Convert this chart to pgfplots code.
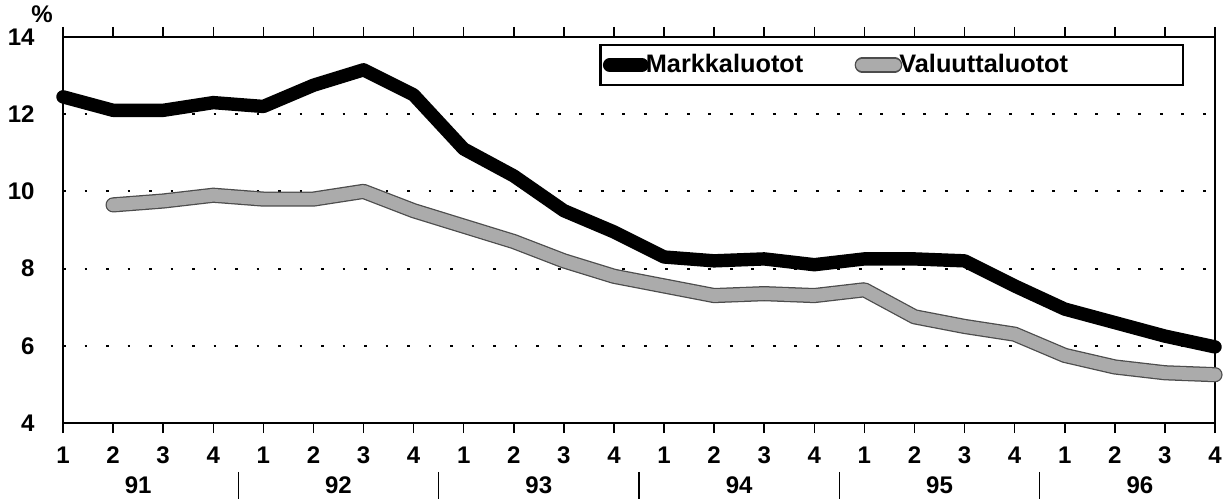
\documentclass[border=0pt]{standalone}
\usepackage{fontspec}
\setmainfont{Liberation Sans}
\usepackage{pgfplots}
\pgfplotsset{compat=1.18}
\begin{document}
\begin{tikzpicture}
\begin{axis}[
  name=ax,
  scale only axis,
  width=16cm, height=5.36cm,
  xmin=0, xmax=23, ymin=4, ymax=14,
  clip=false,
  /pgf/number format/assume math mode=true,
  axis line style={line width=1.1pt},
  ytick={4,6,8,10,12,14},
  ymajorgrids,
  grid style={black, line width=0.8pt, dash pattern=on 1.1pt off 7.4pt},
  ytick style={draw=none},
  yticklabel style={font=\fontsize{9.5}{11}\bfseries\selectfont, xshift=-0.13cm},
  xtick={0,...,23},
  xticklabels={1,2,3,4,1,2,3,4,1,2,3,4,1,2,3,4,1,2,3,4,1,2,3,4},
  xticklabel style={font=\fontsize{9.5}{11}\bfseries\selectfont, yshift=-0.07cm},
  tick align=outside,
  xtick style={black, line width=0.6pt},
  major tick length=0.14cm,
  extra x ticks={1.5,5.5,9.5,13.5,17.5,21.5},
  extra x tick labels={91,92,93,94,95,96},
  extra x tick style={tick style={draw=none}, tick label style={font=\fontsize{9.5}{11}\bfseries\selectfont, yshift=-0.41cm}},
  legend columns=2,
  legend style={at={(0.973,0.982)}, anchor=north east, draw=black, line width=0.9pt,
     font=\fontsize{10}{12}\bfseries\selectfont, inner xsep=1pt, inner ysep=1.5pt,
     /tikz/every even column/.append style={column sep=0pt}},
  legend cell align=left,
  legend image code/.code={\draw[#1] (0cm,0cm) -- (0.45cm,0cm);},
]
\addplot[black, line width=5.3pt, line join=round, line cap=round] coordinates {
(0,12.45)(1,12.1)(2,12.1)(3,12.3)(4,12.2)(5,12.75)(6,13.15)(7,12.5)
(8,11.1)(9,10.4)(10,9.5)(11,8.95)(12,8.3)(13,8.2)(14,8.25)(15,8.1)
(16,8.25)(17,8.25)(18,8.2)(19,7.55)(20,6.95)(21,6.6)(22,6.25)(23,5.97)};
\addlegendentry{\makebox[2.72cm][l]{\hspace*{-0.11cm}Markkaluotot}}
\addplot[preaction={draw, black!70, line width=6pt, line join=round, line cap=round},
  black!33, line width=5pt, line join=round, line cap=round] coordinates {
(1,9.65)(2,9.75)(3,9.9)(4,9.8)(5,9.8)(6,10.0)(7,9.5)
(8,9.1)(9,8.7)(10,8.2)(11,7.8)(12,7.55)(13,7.3)(14,7.35)(15,7.3)
(16,7.45)(17,6.75)(18,6.5)(19,6.3)(20,5.75)(21,5.45)(22,5.3)(23,5.25)};
\addlegendentry{\makebox[3.72cm][l]{\hspace*{-0.11cm}Valuuttaluotot}}
\pgfplotsinvokeforeach{3.5,7.5,11.5,15.5,19.5}{
  \draw[black, line width=0.6pt] ([yshift=-0.68cm]axis cs:#1,4) -- ([yshift=-1.06cm]axis cs:#1,4);
}
\node[font=\fontsize{9.5}{11}\bfseries\selectfont] at ([xshift=-0.29cm, yshift=0.31cm]rel axis cs:0,1) {\%};
\end{axis}
\pgfresetboundingbox
\path[use as bounding box] ([xshift=-0.875cm, yshift=-1.069cm]ax.south west) rectangle ([xshift=0.125cm, yshift=0.514cm]ax.north east);
\end{tikzpicture}
\end{document}
